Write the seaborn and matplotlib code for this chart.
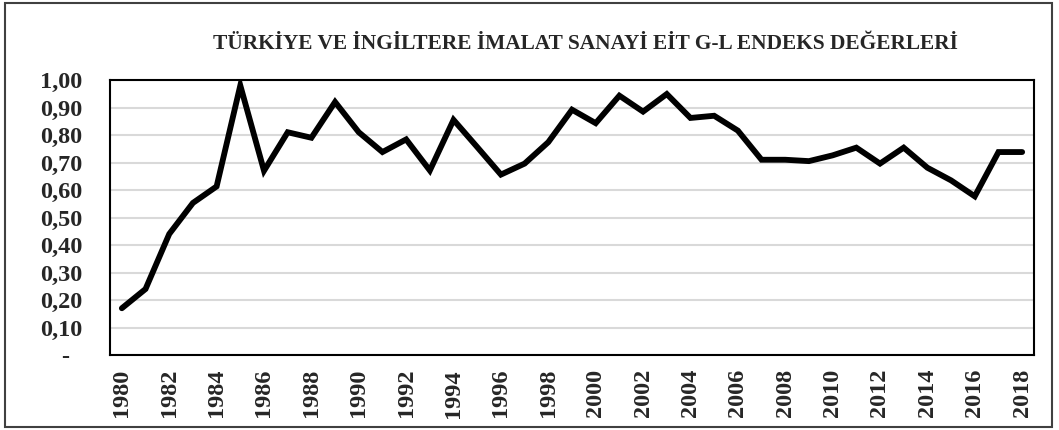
import numpy as np
import pandas as pd
import matplotlib
matplotlib.use("Agg")
import matplotlib.pyplot as plt
import seaborn as sns
from matplotlib.patches import Rectangle

# chart data
years = list(range(1980, 2019))
gl_index = [0.17, 0.24, 0.44, 0.553, 0.613, 0.98, 0.67, 0.81, 0.79, 0.92,
            0.81, 0.738, 0.784, 0.671, 0.855, 0.756, 0.656, 0.696, 0.774, 0.892,
            0.843, 0.943, 0.885, 0.949, 0.862, 0.87, 0.816, 0.71, 0.71, 0.705,
            0.726, 0.754, 0.696, 0.754, 0.681, 0.635, 0.577, 0.738, 0.738]
y_ticks = [0.0, 0.1, 0.2, 0.3, 0.4, 0.5, 0.6, 0.7, 0.8, 0.9, 1.0]
y_tick_labels = ["-  ", "0,10", "0,20", "0,30", "0,40", "0,50", "0,60", "0,70", "0,80", "0,90", "1,00"]
x_ticks = years[::2]
title = "TÜRKİYE VE İNGİLTERE İMALAT SANAYİ EİT G-L ENDEKS DEĞERLERİ"

df = pd.DataFrame({"year": years, "value": gl_index})

sns.set_style("white")
plt.rcParams['font.family'] = ['Liberation Serif', 'DejaVu Serif']
plt.rcParams['font.weight'] = 'bold'

fig = plt.figure(figsize=(10.59, 4.30), dpi=100)
ax = fig.add_axes([110 / 1059, 1 - 355 / 430, (1034 - 110) / 1059, (355 - 80) / 430])

sns.lineplot(data=df, x="year", y="value", ax=ax, color="black", linewidth=4.2,
             solid_joinstyle="miter", solid_capstyle="round", zorder=3)

ax.set_xlim(1979.5, 2018.5)
ax.set_ylim(0, 1.0)
ax.set_yticks(y_ticks)
ax.set_yticklabels(y_tick_labels, fontsize=17.5, fontweight="bold")
ax.set_xticks(x_ticks)
ax.set_xticklabels([str(y) for y in x_ticks], rotation=90, fontsize=17.5, fontweight="bold")
ax.tick_params(axis="y", length=0, pad=20)
ax.tick_params(axis="x", length=0, pad=10)
ax.set_xlabel("")
ax.set_ylabel("")

ax.yaxis.grid(True, color="#d9d9d9", linewidth=1.5, zorder=1)
ax.xaxis.grid(False)
for sp in ax.spines.values():
    sp.set_color("black")
    sp.set_linewidth(1.5)

fig.text(585 / 1059, 1 - 44 / 430, title, ha="center", va="center",
         fontsize=15.4, fontweight="bold")

# outer chart border
fig.patches.append(Rectangle((5 / 1059, 3 / 430), 1047 / 1059, 424 / 430,
                             transform=fig.transFigure, fill=False,
                             edgecolor="#404040", linewidth=1.5))

fig.savefig("out.png", dpi=100)
